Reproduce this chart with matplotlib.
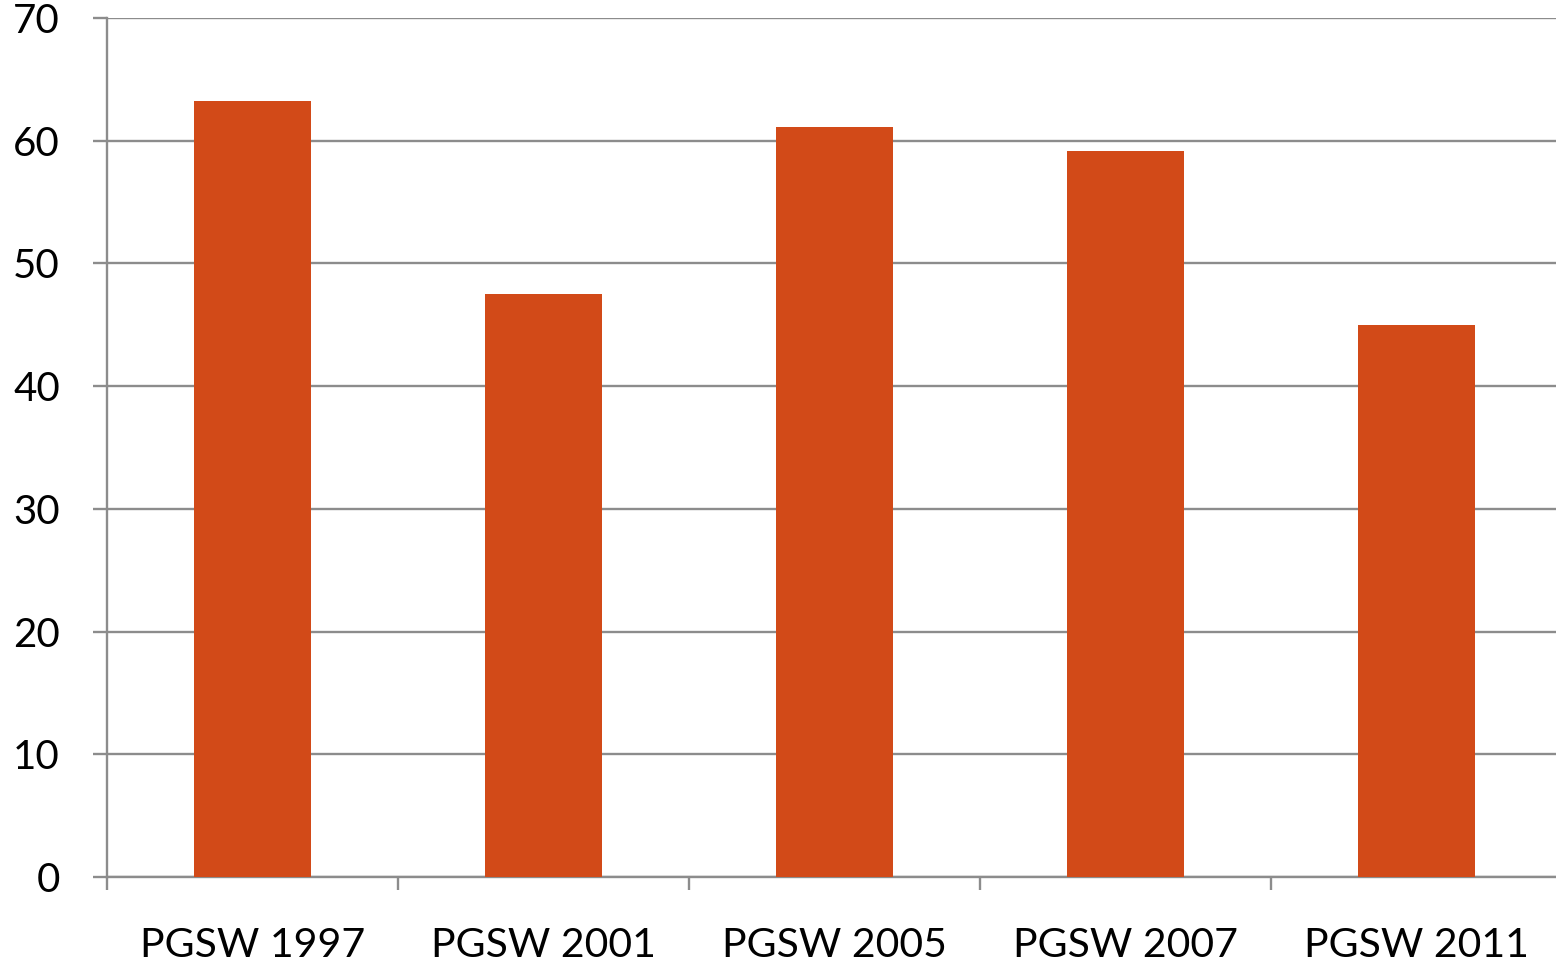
import matplotlib
matplotlib.use('Agg')
import matplotlib.pyplot as plt
import numpy as np

plt.rcParams['font.family'] = ['Lato', 'DejaVu Sans']

categories = ['PGSW 1997', 'PGSW 2001', 'PGSW 2005', 'PGSW 2007', 'PGSW 2011']
values = [63.2, 47.5, 61.1, 59.2, 45.0]
yticks = [0, 10, 20, 30, 40, 50, 60, 70]

grid_col = '#8c8c8c'
bar_col = '#d24a18'

fig = plt.figure(figsize=(15.56, 9.64), dpi=100)
# the plot area runs a little past the right edge of the picture
ax = fig.add_axes([107/1556, 1-877/964, (1562-107)/1556, (877-18)/964])

x = np.arange(len(categories))
ax.bar(x, values, width=0.4, color=bar_col, zorder=3)

ax.set_ylim(0, 70)
ax.set_xlim(-0.5, len(categories) - 0.5)
ax.set_yticks(yticks)
ax.set_yticklabels([str(v) for v in yticks], fontsize=29)
ax.yaxis.grid(True, color=grid_col, linewidth=1.7, zorder=0)
ax.set_axisbelow(True)

# category boundaries get the tick marks, labels sit in the middle
ax.set_xticks(np.arange(-0.5, len(categories) - 0.5, 1.0))
ax.set_xticklabels([])
ax.set_xticks(x, minor=True)
ax.set_xticklabels(categories, minor=True, fontsize=29.5)
ax.tick_params(axis='x', which='major', length=9, width=1.7, color=grid_col)
ax.tick_params(axis='x', which='minor', length=0, pad=36)
ax.tick_params(axis='y', length=10, width=1.7, color=grid_col, pad=24)

for s in ['top', 'right']:
    ax.spines[s].set_visible(False)
for s in ['left', 'bottom']:
    ax.spines[s].set_color(grid_col)
    ax.spines[s].set_linewidth(1.7)

fig.savefig('out.png', dpi=100)
